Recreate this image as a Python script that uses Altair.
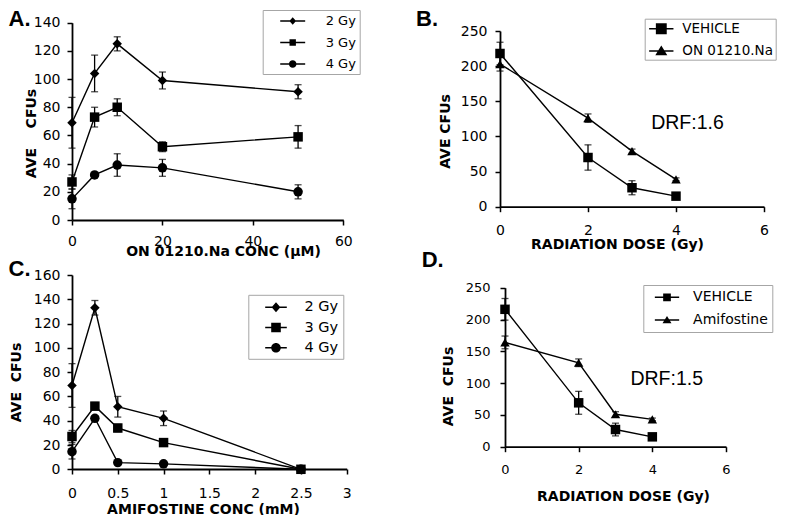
import altair as alt
import pandas as pd

# ---------------- data ----------------
# Panel A: ON 01210.Na concentration (uM)
a_x = [0, 5, 10, 20, 50]
a_2gy = [69, 104, 125, 99, 91]
a_2gy_err = [18, 13, 5, 6, 5]
a_3gy = [27, 73, 80, 52, 59]
a_3gy_err = [5, 7, 6, 3.5, 8]
a_4gy = [15, 32, 39, 37, 20]
a_4gy_err = [7, 1, 8, 6, 5]

# Panel B: radiation dose (Gy)
b_x = [0, 2, 3, 4]
b_vehicle = [218, 70, 27, 15]
b_vehicle_err = [16, 18, 10, 3]
b_on = [203, 126, 79, 39]
b_on_err = [10, 6, 3, 2]

# Panel C: amifostine concentration (mM)
c_x = [0, 0.25, 0.5, 1, 2.5]
c_2gy = [69, 133, 51.5, 42, 0]
c_2gy_err = [18, 6, 8.5, 6, 0]
c_3gy = [27, 52, 34, 22, 0]
c_3gy_err = [5, 3, 3, 2, 0]
c_4gy = [14.5, 42, 5.5, 4.5, 0]
c_4gy_err = [6, 2, 1, 1, 0]

# Panel D: radiation dose (Gy)
d_x = [0, 2, 3, 4]
d_vehicle = [216, 69, 27, 15.5]
d_vehicle_err = [17, 18, 10, 3]
d_amifostine = [164, 132, 51, 43]
d_amifostine_err = [10, 6, 4, 2]

gy_series = ["2 Gy", "3 Gy", "4 Gy"]
b_series = ["VEHICLE", "ON 01210.Na"]
d_series = ["VEHICLE", "Amifostine"]


def frame(xs, series_vals):
    rows = []
    for name, ys, errs in series_vals:
        for x, y, e in zip(xs, ys, errs):
            rows.append({"x": x, "y": y, "err": e, "series": name})
    return pd.DataFrame(rows)


df_a = frame(a_x, [("2 Gy", a_2gy, a_2gy_err), ("3 Gy", a_3gy, a_3gy_err), ("4 Gy", a_4gy, a_4gy_err)])
df_b = frame(b_x, [("VEHICLE", b_vehicle, b_vehicle_err), ("ON 01210.Na", b_on, b_on_err)])
df_c = frame(c_x, [("2 Gy", c_2gy, c_2gy_err), ("3 Gy", c_3gy, c_3gy_err), ("4 Gy", c_4gy, c_4gy_err)])
df_d = frame(d_x, [("VEHICLE", d_vehicle, d_vehicle_err), ("Amifostine", d_amifostine, d_amifostine_err)])

# ---------------- styling helpers ----------------
FONT = "DejaVu Sans"
W, H = 692, 447
NB = "\u00a0"


def shape_path(kind, h):
    if kind == "diamond":
        return f"M0,{-h*1.12:.3f}L{h:.3f},0L0,{h*1.12:.3f}L{-h:.3f},0Z"
    if kind == "square":
        return f"M{-h:.3f},{-h:.3f}H{h:.3f}V{h:.3f}H{-h:.3f}Z"
    if kind == "circle":
        return f"M{-h:.3f},0A{h:.3f},{h:.3f},0,1,1,{h:.3f},0A{h:.3f},{h:.3f},0,1,1,{-h:.3f},0Z"
    if kind == "triangle":
        return f"M0,{-h*0.9:.3f}L{h:.3f},{h*0.7:.3f}L{-h:.3f},{h*0.7:.3f}Z"


def legend_paths(kinds, halfline, sizes, t=0.085):
    bar = f"M{-halfline:.3f},{-t:.3f}H{halfline:.3f}V{t:.3f}H{-halfline:.3f}Z"
    return [bar + shape_path(k, h) for k, h in zip(kinds, sizes)]


def x_axis(values, title, offset, lpad, tx, ty, lsize=14):
    return alt.Axis(orient="bottom", offset=offset, values=values, format="~f", grid=False,
                    domainColor="black", domainWidth=1.8, tickColor="black", tickWidth=1.5,
                    tickSize=5, labelFont=FONT, labelFontSize=lsize, labelColor="black",
                    labelPadding=lpad, labelFlush=False, labelOverlap=False,
                    title=title, titleFont=FONT, titleFontSize=14, titleFontWeight="bold",
                    titleColor="black", titleX=tx, titleY=ty, titleAlign="center",
                    titleBaseline="middle", titleAngle=0)


def y_axis(values, title, offset, lpad, tx, ty, lsize=14):
    return alt.Axis(orient="left", offset=offset, values=values, format="~f", grid=False,
                    domainColor="black", domainWidth=1.8, tickColor="black", tickWidth=1.5,
                    tickSize=5, labelFont=FONT, labelFontSize=lsize, labelColor="black",
                    labelPadding=lpad, labelFlush=False, labelOverlap=False,
                    title=title, titleFont=FONT, titleFontSize=14, titleFontWeight="bold",
                    titleColor="black", titleX=tx, titleY=ty, titleAlign="center",
                    titleBaseline="middle", titleAngle=270)


def panel(df, xdomain, xrange, xaxis, ydomain, yrange, yaxis,
          series, point_shapes, leg_paths, legend, drf=None):
    xs = alt.Scale(domain=xdomain, range=xrange, nice=False, zero=False)
    ys = alt.Scale(domain=ydomain, range=yrange, nice=False, zero=False)
    X = alt.X("x:Q", scale=xs, axis=xaxis)

    def Y(field):
        return alt.Y(field, type="quantitative", scale=ys, axis=yaxis)

    base = alt.Chart(df)
    err = base.transform_filter("datum.err > 0").transform_calculate(
        lo="datum.y - datum.err", hi="datum.y + datum.err")
    rules = err.mark_rule(color="black", strokeWidth=1.3).encode(x=X, y=Y("lo"), y2="hi:Q")
    caps = err.transform_fold(["lo", "hi"], as_=["k", "v"]).mark_tick(
        color="black", orient="horizontal", size=7, thickness=1.3).encode(x=X, y=Y("v"))
    lines = base.mark_line(color="black", strokeWidth=1.4).encode(
        x=X, y=Y("y"), detail="series:N")
    points = base.mark_point(filled=True, color="black", size=90, opacity=1).encode(
        x=X, y=Y("y"),
        shape=alt.Shape("series:N", scale=alt.Scale(domain=series, range=point_shapes), legend=None))
    leg = base.mark_point(filled=True, color="black", size=256, opacity=0).encode(
        x=X, y=Y("y"),
        shape=alt.Shape("series:N", scale=alt.Scale(domain=series, range=leg_paths), legend=legend))
    layers = [rules, caps, lines, points, leg]
    if drf is not None:
        txt, dx, dy = drf
        layers.append(alt.Chart(alt.Data(values=[{}])).mark_text(
            text=txt, font="Liberation Sans", fontSize=19.5, align="center",
            baseline="alphabetic", color="black").encode(
            x=alt.X(datum=dx, type="quantitative", scale=xs, axis=xaxis),
            y=alt.Y(datum=dy, type="quantitative", scale=ys, axis=yaxis)))
    return alt.layer(*layers).resolve_scale(shape="independent")


def make_legend(lx, ly, pad, rowpad, lsize, symoff, laboff, nb):
    return alt.Legend(orient="none", legendX=lx, legendY=ly, title=None,
                      strokeColor="#a6a6a6", padding=pad, rowPadding=rowpad,
                      symbolSize=256, symbolFillColor="black", symbolStrokeColor="black",
                      symbolStrokeWidth=0, symbolOpacity=1, symbolOffset=symoff,
                      labelFont=FONT, labelFontSize=lsize, labelColor="black",
                      labelOffset=laboff, labelLimit=400,
                      labelExpr="datum.label + '" + NB * nb + "'")


pA = panel(
    df_a, [0, 60], [0, 271.3],
    x_axis([0, 20, 40, 60], "ON 01210.Na CONC (\u03bcM)", -249, 9, 151, 31),
    [0, 140], [198, 0.7],
    y_axis([0, 20, 40, 60, 80, 100, 120, 140], "AVE" + NB * 4 + "CFUs", 0, 7, -41, 111),
    gy_series, ["diamond", "square", "circle"],
    legend_paths(["diamond", "square", "circle"], 1.56, [0.42, 0.4, 0.47]),
    make_legend(190.7, -12, 3, 6.5, 13, 19, 25, 5))

pB = panel(
    df_b, [0, 6], [428, 692],
    x_axis([0, 2, 4, 6], "RADIATION DOSE (Gy)", -262.3, 12, 545, 38),
    [0, 250], [184.7, 9],
    y_axis([0, 50, 100, 150, 200, 250], "AVE CFUs", -428, 8, -55, 109),
    b_series, ["square", "triangle-up"],
    legend_paths(["square", "triangle"], 1.52, [0.68, 0.75]),
    make_legend(572.7, -3.3, 2, 7.3, 13.5, 6.6, 13, 0),
    drf=("DRF:1.6", 4.26, 110))

pC = panel(
    df_c, [0, 3], [0, 274.7],
    x_axis([0, 0.5, 1, 1.5, 2, 2.5, 3], "AMIFOSTINE CONC (mM)", 0, 12, 131, 40),
    [0, 160], [447.3, 253],
    y_axis([0, 20, 40, 60, 80, 100, 120, 140, 160], "AVE" + NB * 2 + "CFUs", 0, 7, -56, 360),
    gy_series, ["diamond", "square", "circle"],
    legend_paths(["diamond", "square", "circle"], 1.35, [0.55, 0.6, 0.6]),
    make_legend(176.3, 272.8, 4.5, 5.2, 14.5, 15.2, 20.5, 5))

pD = panel(
    df_d, [0, 6], [433, 654],
    x_axis([0, 2, 4, 6], "RADIATION DOSE (Gy)", -22.3, 12, 551, 50, 13),
    [0, 250], [424.7, 265.7],
    y_axis([0, 50, 100, 150, 200, 250], "AVE" + NB * 2 + "CFUs", -433, 10, -57, 364, 13),
    d_series, ["square", "triangle-up"],
    legend_paths(["square", "triangle"], 1.52, [0.48, 0.56]),
    make_legend(571.3, 263, 4.3, 7.7, 14, 11.4, 18.1, 2),
    drf=("DRF:1.5", 4.39, 97))


def panel_label(txt, px, py):
    return alt.Chart(alt.Data(values=[{}])).mark_text(
        text=txt, font="Liberation Sans", fontWeight="bold", fontSize=22,
        align="left", baseline="alphabetic", color="black").encode(
        x=alt.value(px), y=alt.value(py))


chart = alt.layer(
    pA, pB, pC, pD,
    panel_label("A.", -63.5, 3.5),
    panel_label("B.", 344, 3.5),
    panel_label("C.", -63.5, 254),
    panel_label("D.", 349.7, 245.3),
).resolve_scale(x="independent", y="independent", shape="independent").properties(
    width=W, height=H,
    autosize=alt.AutoSizeParams(type="none"),
    padding={"left": 64, "top": 14, "right": 13, "bottom": 46},
    background="white",
).configure_view(strokeWidth=0)

chart.save("out.html", embed_options={"renderer": "svg", "actions": False})
